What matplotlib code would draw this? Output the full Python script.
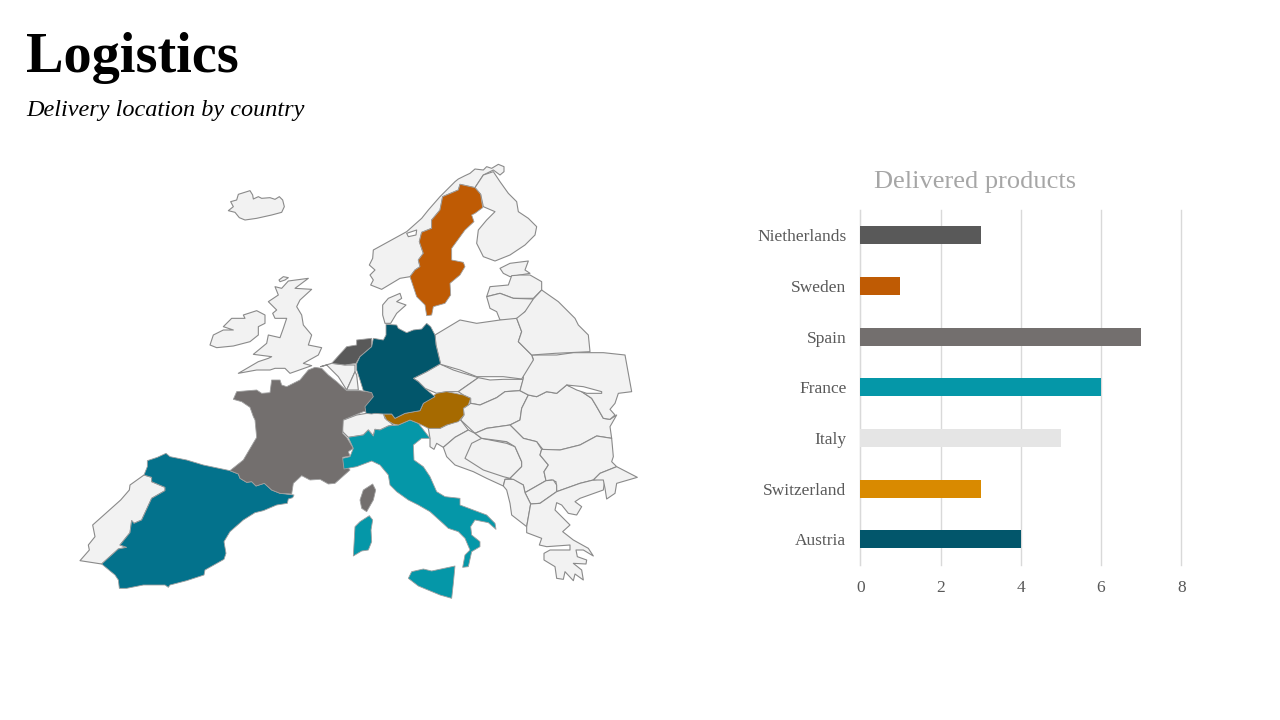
# Logistics slide: map of Europe on the left, delivered products bars on the right

import matplotlib
matplotlib.use("Agg")
import matplotlib.pyplot as plt

# chart data
countries = ["Nietherlands", "Sweden", "Spain", "France", "Italy", "Switzerland", "Austria"]
delivered = [3, 1, 7, 6, 5, 3, 4]
bar_colors = ["#595959", "#BF5B04", "#736F6E", "#0597A8", "#E5E5E5", "#D98A00", "#02566B"]
x_ticks = [0, 2, 4, 6, 8]

# map colours
LAND = "#F2F2F2"
EDGE = "#8A8A8A"
SPAIN = "#03728C"
GERMANY = "#02566B"
AUSTRIA = "#A66A00"
ITALY = "#0597A8"
FRANCE = "#736F6E"
SWEDEN = "#BF5B04"
NETHERLANDS = "#595959"

spain = [(222,375),(232,350),(232,332),(262,322),(288,310),(300,320),(350,330),(400,345),(480,362),(505,372),(510,385),(530,397),(545,395),(558,408),(583,400),(605,420),(630,430),(672,435),(668,443),(655,447),(652,460),(620,465),(580,482),(555,488),(520,510),(480,545),(462,575),(468,610),(462,628),(405,660),(402,675),(350,692),(300,705),(295,712),(285,705),(220,705),(170,715),(148,715),(145,690),(135,675),(95,642),(145,597),(170,592),(150,585),(180,548),(185,512),(192,520),(215,510),(245,445),(285,422),(285,412),(245,395),(245,382)]
portugal = [(222,375),(180,405),(178,420),(152,450),(68,525),(75,560),(55,585),(58,600),(30,632),(95,642),(145,597),(170,592),(150,585),(180,548),(185,512),(192,520),(215,510),(245,445),(285,422),(285,412),(245,395),(245,382)]
france = [(480,362),(520,330),(560,262),(555,210),(550,200),(540,172),(515,155),(490,148),(500,125),(560,120),(575,130),(600,128),(605,90),(630,90),(635,105),(650,110),(690,90),(715,60),(735,52),(755,55),(775,75),(800,95),(830,122),(870,122),(905,127),(912,135),(905,155),(888,185),(880,185),(820,210),(818,250),(830,262),(850,295),(835,305),(840,318),(818,322),(825,345),(840,360),(795,400),(775,402),(750,388),(720,390),(695,377),(670,400),(665,432),(630,430),(605,420),(583,400),(558,408),(545,395),(530,397),(510,385),(505,372)]
corsica = [(908,402),(917,420),(910,450),(890,485),(875,475),(870,450),(880,420)]

switzerland = [(5,212),(50,195),(80,190),(105,190),(130,190),(135,205),(160,225),(145,228),(120,240),(105,238),(100,258),(85,240),(70,255),(25,262),(8,245)]
italy = [(25,262),(70,255),(85,240),(100,258),(105,238),(120,240),(145,228),(175,225),(210,210),(235,220),(270,265),(245,265),(220,285),(222,330),(250,350),(270,380),(290,425),(315,440),(360,445),(360,465),(440,495),(465,520),(468,538),(445,518),(405,510),(392,530),(395,555),(420,575),(420,590),(395,605),(385,650),(368,652),(375,615),(390,600),(375,565),(355,545),(325,535),(300,512),(270,485),(235,465),(205,450),(170,425),(150,405),(145,375),(120,345),(95,333),(50,350),(12,357),(8,325),(30,320),(40,295)]
sicily = [(205,685),(215,665),(250,657),(275,663),(345,648),(340,700),(335,745),(300,735),(235,708)]
sardinia = [(88,497),(98,510),(93,540),(95,575),(85,600),(65,603),(40,618),(45,530),(60,515)]
austria = [(130,192),(155,192),(165,205),(195,190),(240,182),(250,160),(290,130),(320,125),(370,135),(392,145),(385,165),(370,175),(372,195),(355,215),(320,225),(300,235),(265,235),(235,220),(210,210),(175,225),(160,222),(140,210)]
germany_south = [(300,42),(260,65),(220,85),(235,95),(255,115),(285,140),(250,160),(240,182),(195,190),(165,205),(155,192),(130,192),(105,190),(95,192),(78,190),(75,170),(100,140),(95,128),(70,122),(60,90),(50,60),(50,40)]
czechia = [(220,85),(260,65),(300,42),(340,60),(365,68),(415,83),(355,125),(320,125),(290,130),(255,115),(235,95)]
slovakia = [(415,83),(450,90),(490,88),(550,88),(540,122),(495,125),(470,143),(420,165),(392,160),(392,145),(370,135),(355,125)]
hungary = [(392,160),(420,165),(470,143),(495,125),(540,122),(565,135),(545,175),(540,210),(510,225),(440,235),(405,250),(362,210),(372,195),(370,175),(385,165)]
romania = [(565,135),(590,140),(620,125),(650,130),(680,105),(710,115),(755,145),(770,170),(790,205),(810,208),(830,195),(810,230),(815,265),(770,258),(720,285),(660,300),(610,300),(590,275),(550,265),(510,225),(540,210),(545,175)]
ukraine = [(580,28),(575,15),(650,15),(700,8),(790,8),(855,15),(875,125),(835,130),(825,160),(810,178),(825,195),(810,208),(790,205),(770,170),(755,145),(710,115),(680,105),(650,130),(620,125),(590,140),(565,135),(540,122),(550,85),(550,60)]
crimea_gap = [(680,105),(730,110),(785,125),(785,130),(740,130),(710,120)]
slovenia = [(265,235),(300,235),(320,225),(362,210),(385,240),(345,262),(310,292),(290,280),(282,298),(270,290),(270,265)]
croatia = [(310,292),(345,262),(385,240),(405,250),(425,265),(500,275),(525,290),(545,335),(545,350),(510,385),(495,388),(490,408),(440,385),(400,365),(345,345),(320,320)]
bosnia = [(375,325),(395,280),(425,265),(500,280),(525,290),(545,335),(545,350),(510,385),(490,380),(430,360)]
serbia = [(405,250),(440,235),(510,225),(550,265),(590,275),(605,298),(600,315),(625,345),(612,365),(618,392),(555,428),(550,405),(510,385),(545,350),(545,335),(525,290),(500,275),(425,265)]
bulgaria = [(605,298),(660,300),(720,285),(770,258),(815,265),(820,320),(815,335),(830,350),(780,370),(760,390),(720,400),(650,425),(648,395),(635,390),(618,392),(612,365),(625,345),(600,315)]
macedonia = [(555,428),(618,392),(640,390),(650,405),(650,425),(600,460),(572,462)]
albania = [(495,388),(520,388),(550,405),(555,428),(572,462),(560,530),(515,495),(510,460),(500,420),(490,408)]
greece = [(572,462),(560,530),(560,548),(605,565),(598,585),(620,590),(690,585),(690,600),(630,600),(612,610),(612,630),(645,650),(650,685),(670,688),(675,665),(700,692),(705,672),(730,690),(725,660),(700,640),(738,642),(740,630),(712,620),(708,600),(730,600),(760,618),(745,595),(700,570),(668,545),(690,525),(645,480),(650,458),(665,465),(685,490),(710,495),(725,470),(705,455),(720,445),(790,420),(795,385),(760,390),(720,400),(650,425),(600,460)]
turkey = [(760,390),(780,370),(830,350),(892,382),(830,400),(825,430),(800,447),(795,415),(790,390)]

germany_north = [(722,628),(708,570),(705,540),(692,515),(680,505),(665,522),(640,525),(620,533),(595,520),(590,510),(558,508),(558,540),(550,555),(520,550),(515,575),(480,605),(468,630)]
netherlands = [(395,625),(440,575),(470,570),(470,555),(515,550),(515,575),(480,605),(468,625),(435,630)]
belgium = [(362,635),(395,625),(435,630),(465,630),(465,650),(440,705),(415,665),(380,630)]
luxembourg = [(440,705),(465,650),(470,660),(475,705)]
britain = [(265,378),(325,370),(285,400),(335,403),(300,435),(290,455),(305,480),(310,510),(335,540),(325,570),(365,578),(355,600),(310,625),(335,632),(270,655),(255,640),(225,640),(210,645),(170,645),(115,655),(175,620),(205,610),(215,605),(160,598),(200,565),(205,540),(240,548),(250,520),(260,490),(225,490),(218,475),(230,465),(205,440),(235,420),(225,395),(245,400)]
shetland = [(237,375),(250,365),(265,368),(255,375),(240,380)]
ireland = [(30,570),(40,540),(70,525),(100,525),(70,515),(95,490),(135,490),(130,480),(170,467),(195,480),(195,505),(175,515),(175,540),(150,560),(100,573),(50,578)]
iceland = [(85,167),(100,155),(92,140),(110,135),(115,118),(150,107),(158,120),(160,132),(175,125),(185,130),(210,128),(225,133),(238,125),(248,135),(253,155),(245,172),(215,180),(170,190),(135,195),(118,188),(105,172)]
sweden = [(780,88),(825,98),(842,118),(848,158),(825,175),(815,180),(822,200),(795,225),(755,280),(755,315),(790,322),(795,335),(780,360),(750,385),(752,420),(735,445),(700,455),(695,480),(680,482),(675,450),(650,425),(630,365),(645,345),(660,335),(655,315),(670,295),(658,260),(665,232),(695,220),(695,195),(720,165),(728,125),(775,105)]
norway = [(912,35),(895,28),(875,40),(860,35),(850,45),(825,42),(810,55),(795,62),(775,72),(765,80),(720,125),(685,165),(665,190),(620,230),(520,285),(518,310),(508,330),(525,345),(510,360),(520,375),(512,390),(545,403),(600,370),(630,365),(645,345),(660,335),(655,315),(670,295),(658,260),(665,232),(695,220),(695,195),(720,165),(728,125),(775,105),(780,88),(825,98),(850,60),(880,45),(900,60),(912,50)]
fjord_gap = [(620,235),(650,225),(648,240),(625,245)]
finland = [(850,60),(880,50),(900,80),(925,115),(950,140),(955,170),(985,190),(1010,215),(1005,240),(975,270),(930,300),(885,318),(850,305),(830,265),(835,225),(860,195),(885,170),(850,155),(842,118),(825,98)]
estonia = [(900,340),(930,325),(985,318),(975,345),(990,355),(960,360),(930,365),(910,355)]
latvia = [(860,425),(870,395),(925,390),(935,362),(960,360),(990,360),(1025,380),(1025,405),(1000,430),(940,430),(900,415)]
lithuania = [(860,425),(900,415),(940,430),(1000,432),(990,460),(975,470),(950,500),(900,495),(890,470),(870,460)]
denmark = [(548,450),(565,430),(600,415),(605,430),(590,440),(618,450),(590,475),(572,505),(555,505),(548,480)]
poland = [(705,540),(780,495),(830,505),(900,495),(950,490),(965,530),(955,560),(995,600),(1000,615),(965,672),(910,665),(830,665),(780,645),(722,628),(708,570)]
belarus = [(950,490),(975,470),(1000,432),(1025,405),(1075,440),(1125,490),(1135,510),(1165,540),(1170,590),(1065,595),(995,600),(955,560),(965,530)]

# crop origins
WEST = (70, 350)
EAST = (340, 350)
NORTH = (200, 155)


def to_px(points, origin):
    return [origin[0] + x / 3 for x, y in points], [origin[1] + y / 3 for x, y in points]


def draw_shape(ax, points, origin, color, edge=EDGE, lw=0.8):
    xs, ys = to_px(points, origin)
    ax.fill(xs, ys, facecolor=color, edgecolor=edge, linewidth=lw, joinstyle="round")


fig = plt.figure(figsize=(12.8, 7.2), dpi=100, facecolor="white")

# full page axes in pixels, for the map and the page titles
page = fig.add_axes([0, 0, 1, 1])
page.set_xlim(0, 1280)
page.set_ylim(720, 0)
page.axis("off")

for shape, origin in [(portugal, WEST), (switzerland, EAST), (czechia, EAST), (slovakia, EAST),
                      (hungary, EAST), (romania, EAST), (ukraine, EAST), (slovenia, EAST),
                      (croatia, EAST), (bosnia, EAST), (serbia, EAST), (bulgaria, EAST),
                      (macedonia, EAST), (albania, EAST), (greece, EAST), (turkey, EAST),
                      (belgium, NORTH), (luxembourg, NORTH), (britain, NORTH), (shetland, NORTH),
                      (ireland, NORTH), (iceland, NORTH), (norway, NORTH), (finland, NORTH),
                      (estonia, NORTH), (latvia, NORTH), (lithuania, NORTH), (denmark, NORTH),
                      (poland, NORTH), (belarus, NORTH)]:
    draw_shape(page, shape, origin, LAND)

draw_shape(page, crimea_gap, EAST, "white")
draw_shape(page, fjord_gap, NORTH, "white")

# coloured countries have a lighter, thinner outline
SOFT = "#A0A0A0"
draw_shape(page, spain, WEST, SPAIN, SOFT, 0.6)
draw_shape(page, france, WEST, FRANCE, SOFT, 0.6)
draw_shape(page, corsica, WEST, FRANCE, SOFT, 0.6)
draw_shape(page, italy, EAST, ITALY, SOFT, 0.6)
draw_shape(page, sicily, EAST, ITALY, SOFT, 0.6)
draw_shape(page, sardinia, EAST, ITALY, SOFT, 0.6)
draw_shape(page, austria, EAST, AUSTRIA, SOFT, 0.6)
draw_shape(page, netherlands, NORTH, NETHERLANDS, SOFT, 0.6)
draw_shape(page, sweden, NORTH, SWEDEN, SOFT, 0.6)

# germany comes from two crops, so join the two halves
gx1, gy1 = to_px(germany_north, NORTH)
gx2, gy2 = to_px(germany_south[::-1], EAST)
page.fill(gx1 + gx2, gy1 + gy2, facecolor=GERMANY, edgecolor=SOFT, linewidth=0.6)

page.text(26, 72, "Logistics", family="Liberation Serif", fontsize=40.5, fontweight="bold", color="black")
page.text(26, 116, "Delivery location by country", family="Liberation Serif", fontsize=17.5,
          style="italic", color="black")
page.text(975, 188, "Delivered products", family="Liberation Serif", fontsize=19, color="#A6A6A6", ha="center")

# bar chart
ax = fig.add_axes([860.3 / 1280, (720 - 564.7) / 720, 321 / 1280, 354.9 / 720])
ax.set_facecolor("none")
ax.barh(countries, delivered, height=0.355, color=bar_colors, zorder=3)
ax.set_xlim(0, 8)
ax.set_ylim(6.5, -0.5)
ax.set_xticks(x_ticks)
ax.grid(axis="x", color="#D9D9D9", linewidth=1, zorder=0, clip_on=False)
ax.tick_params(axis="both", length=0, labelcolor="#595959", labelsize=12.5)
ax.tick_params(axis="y", pad=10)
ax.tick_params(axis="x", pad=11)
for label in ax.get_xticklabels() + ax.get_yticklabels():
    label.set_family("Liberation Serif")
for side in ["top", "right", "bottom"]:
    ax.spines[side].set_visible(False)
ax.spines["left"].set_color("#D9D9D9")

fig.savefig("out.png", dpi=100)
